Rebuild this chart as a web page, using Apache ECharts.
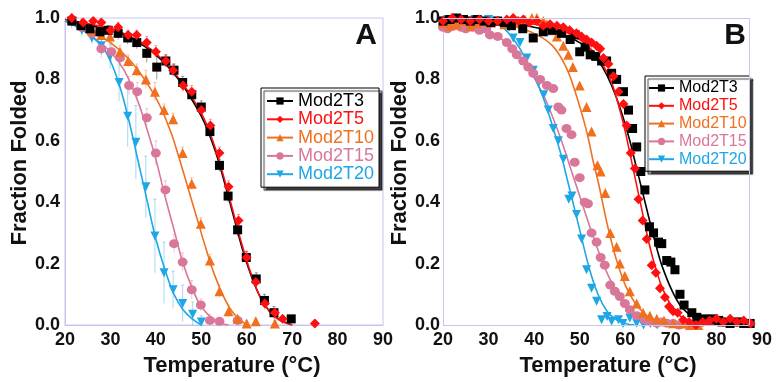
<!DOCTYPE html>
<html><head><meta charset="utf-8">
<script src="https://cdn.jsdelivr.net/npm/echarts@6/dist/echarts.min.js"></script>
<style>html,body{margin:0;padding:0;background:#fff}#c{width:776px;height:382px}</style>
</head><body><div id="c"></div>
<script>
const seriesNames = ['Mod2T3','Mod2T5','Mod2T10','Mod2T15','Mod2T20'];
const colors = ['#000000','#ff1010','#f07020','#d9779b','#1ea6e6'];
const symbols = ['rect','diamond','triangle','circle','triangle'];
const symbolRotates = [0,0,0,0,180];
const symbolSizes = [9,10,10,[10,9],9];
const xTicks = [20,30,40,50,60,70,80,90];
const yTicks = [0.0,0.2,0.4,0.6,0.8,1.0];
const panelLabels = ['A','B'];

// Panel A measured points [T, fraction, error]
const A_T3 = [[21.5,0.99,0.01],[23.5,0.975,0.01],[25.5,0.965,0.01],[27.7,0.955,0.015],[29.5,0.96,0.015],[31.7,0.95,0.02],[33.8,0.935,0.02],[35.8,0.92,0.02],[38,0.885,0.03],[40.2,0.84,0.04],[42.2,0.86,0.02],[44,0.83,0.02],[45.9,0.79,0.02],[47.9,0.75,0.02],[50,0.71,0.02],[51.9,0.63,0.02],[54,0.52,0.02],[55.9,0.42,0.02],[58,0.31,0.02],[59.9,0.22,0.02],[62.1,0.15,0.02],[63.9,0.08,0.02],[66,0.04,0.02],[69.8,0.02,0.01]];
const A_T5 = [[21.5,1.0,0.01],[24,0.985,0.01],[26.2,0.99,0.01],[28,0.985,0.01],[30,0.96,0.01],[31.7,0.97,0.015],[33.9,0.945,0.015],[35.8,0.945,0.015],[38,0.92,0.02],[40,0.89,0.02],[42.2,0.86,0.02],[43.8,0.83,0.02],[46,0.78,0.02],[47.9,0.76,0.02],[50,0.70,0.02],[52,0.65,0.02],[54,0.56,0.02],[56,0.45,0.02],[58.2,0.34,0.02],[60,0.22,0.02],[62,0.14,0.02],[64,0.07,0.02],[66.2,0.04,0.01],[67.9,0.02,0.01],[75,0.005,0.01]];
const A_T10 = [[21.5,1.0,0.01],[23.7,0.985,0.01],[25.9,0.96,0.015],[28,0.945,0.015],[29.9,0.94,0.02],[32.1,0.89,0.02],[33.9,0.86,0.02],[35.8,0.83,0.02],[37.8,0.80,0.03],[39.8,0.76,0.03],[41.8,0.70,0.02],[43.8,0.67,0.02],[45.9,0.56,0.02],[47.9,0.46,0.02],[49.9,0.33,0.02],[51.9,0.21,0.02],[54,0.11,0.02],[56,0.045,0.02],[58,0.02,0.01],[60,0.005,0.01],[62,0.012,0.01],[66.2,0.005,0.01]];
const A_T15 = [[21.5,0.99,0.01],[23.7,0.97,0.01],[25.9,0.95,0.02],[28,0.90,0.03],[30.2,0.89,0.03],[32.1,0.87,0.03],[34.1,0.78,0.03],[35.9,0.76,0.03],[38,0.675,0.03],[40,0.56,0.04],[42.1,0.44,0.03],[44,0.265,0.03],[45.9,0.205,0.03],[47.9,0.115,0.03],[49.9,0.065,0.02],[51.9,0.015,0.02],[54,0.012,0.01],[58,0.015,0.01]];
const A_T20 = [[21.5,0.985,0.02],[23.7,0.96,0.02],[25.9,0.935,0.02],[28,0.91,0.03],[29.9,0.875,0.04],[31.9,0.79,0.06],[33.8,0.68,0.1],[35.6,0.595,0.12],[37.8,0.45,0.1],[39.8,0.29,0.12],[41.8,0.17,0.1],[43.8,0.115,0.06],[45.9,0.07,0.06],[48.1,0.035,0.04],[50,0.01,0.02]];

// Panel A fitted curves [T, fraction]
const A_fit_T3 = [[20,0.99],[30,0.96],[35,0.93],[40,0.88],[45,0.80],[50,0.68],[53,0.57],[55,0.47],[57,0.36],[59,0.25],[61,0.16],[63,0.09],[65,0.045],[67,0.02],[70,0.0]];
const A_fit_T5 = [[20,0.995],[30,0.965],[35,0.935],[40,0.885],[45,0.805],[50,0.69],[53,0.58],[55,0.48],[57,0.37],[59,0.26],[61,0.165],[63,0.09],[65,0.045],[67,0.018],[70,0.0]];
const A_fit_T10 = [[20,0.99],[25,0.96],[30,0.92],[35,0.85],[40,0.74],[43,0.64],[45,0.55],[47,0.45],[49,0.35],[51,0.25],[53,0.16],[55,0.09],[57,0.04],[60,0.0]];
const A_fit_T15 = [[20,0.99],[25,0.95],[30,0.89],[33,0.83],[36,0.73],[38,0.64],[40,0.54],[42,0.42],[44,0.31],[46,0.2],[48,0.12],[50,0.06],[53,0.015],[56,0.0]];
const A_fit_T20 = [[20,0.99],[24,0.96],[28,0.91],[30,0.86],[32,0.78],[34,0.67],[36,0.54],[38,0.41],[40,0.28],[42,0.18],[44,0.1],[46,0.05],[48,0.02],[50,0.0]];

// Panel B measured points [T, fraction, error]
const B_T3 = [[20,0.99],[21.5,0.995],[23,1.0],[24.5,0.995],[26,0.99],[27.5,0.995],[29,0.99],[30.5,0.985],[32,0.99],[33.5,0.985],[35,0.975],[37.5,0.965],[39.8,0.935,0.02],[42,0.955],[44,0.96],[46,0.95,0.02],[47.9,0.93,0.03],[49,0.945],[50,0.89,0.03],[51.2,0.905],[52.3,0.88,0.02],[53.5,0.875],[54.8,0.86,0.02],[55.9,0.86],[57,0.82,0.02],[58.1,0.80],[59.6,0.76,0.02],[60.7,0.70],[61.6,0.64,0.02],[62.5,0.58],[63.4,0.50,0.02],[64.3,0.44],[65.3,0.32,0.02],[66.2,0.30],[67.3,0.27,0.02],[68,0.265],[69.1,0.21,0.02],[70,0.205],[70.9,0.18,0.02],[72,0.10],[72.9,0.065,0.02],[74.6,0.04],[75.7,0.025],[77.5,0.02,0.02],[79.3,0.02],[80.5,0.015],[81.2,0.01],[83,0.005],[84.8,0.01],[86,0.005],[87.4,0.005]];
const B_T5 = [[20,0.99],[22,1.0],[24,0.995],[26,0.99],[28,0.995],[30,0.99],[32,0.99],[34,0.995],[35.4,1.0],[36.5,0.99],[37.6,0.995],[39,0.985],[40.6,0.99],[42,0.975],[43.5,0.98,0.02],[45,0.975],[46.4,0.97,0.03],[47.8,0.96],[49.3,0.95,0.03],[50.4,0.94],[51.5,0.93,0.04],[52.6,0.92],[53.7,0.91,0.04],[54.5,0.9],[55.2,0.87,0.03],[56.3,0.85],[57.4,0.81,0.03],[58.5,0.76],[59.6,0.72,0.03],[60.3,0.65],[61.2,0.56,0.03],[62.1,0.51],[62.9,0.41,0.03],[63.8,0.34],[64.7,0.28,0.03],[65.8,0.195],[66.7,0.17,0.02],[67.6,0.12],[68.7,0.09,0.02],[69.6,0.06],[70.5,0.045],[71.5,0.04],[72.7,0.017],[74,0.01],[75.5,0.0],[77,0.01],[78.5,0.015],[80,0.02],[81.5,0.01],[83,0.02],[84.5,0.01],[86,0.015],[87.5,0.005]];
const B_T10 = [[20,0.985],[21.5,0.975],[23,0.98],[24.5,0.99],[26,0.975],[27.5,0.985],[29,0.99],[30.5,0.985],[32,0.99],[33.5,0.98],[35,0.99],[36.5,0.985],[38,0.995],[39.5,1.0],[40.6,1.0],[42,0.99],[42.8,0.98,0.02],[44,0.96],[45,0.94,0.03],[46.4,0.91],[47.5,0.88,0.04],[48.5,0.84],[50,0.78,0.05],[51.5,0.71,0.04],[52.6,0.63],[53.9,0.52,0.04],[54.6,0.50],[55.6,0.43,0.04],[56.7,0.30],[58.1,0.255,0.03],[58.8,0.20],[59.9,0.16,0.03],[61,0.11],[62.5,0.07,0.02],[63.9,0.04],[65.4,0.03,0.02],[66.9,0.02],[68.5,0.015],[70.5,0.006],[72.5,0.005],[74.2,0.0],[76,0.0]];
const B_T15 = [[20,0.97],[21,0.965],[22.5,0.975],[24,0.97],[25,0.965],[26.5,0.97],[28,0.96],[29.5,0.965],[30.3,0.945],[32,0.94],[34,0.92,0.02],[35.2,0.9],[36.2,0.88,0.03],[37.6,0.86],[38.7,0.84,0.03],[39.8,0.82],[41.3,0.80,0.04],[42.8,0.78],[44.2,0.77,0.06],[45.3,0.71],[46,0.70,0.06],[47.1,0.64],[48.2,0.62,0.08],[48.9,0.53],[50,0.48,0.06],[51.1,0.40],[51.8,0.395,0.07],[52.6,0.30],[53.7,0.27,0.05],[54.6,0.22],[55.5,0.195,0.04],[56.7,0.13],[57.7,0.11,0.03],[58.8,0.093],[59.9,0.07,0.03],[61,0.05],[62.5,0.03,0.02],[64.3,0.017],[65.5,0.01],[66.9,0.006],[68,0.01],[69.1,0.006],[70.5,0.005],[71.8,0.0],[73,0.005]];
const B_T20 = [[20,0.99],[21,0.995],[22.5,0.99],[24,0.995],[25.5,0.99],[27,0.995],[28.5,0.99],[30,0.995],[31.5,0.99],[33,0.985],[34.5,0.97],[35.4,0.935,0.02],[36.9,0.92],[38.4,0.87,0.03],[39.8,0.83],[41,0.79,0.04],[42.1,0.75],[43.1,0.70,0.05],[44.2,0.64],[45.3,0.60,0.05],[46.4,0.54],[47.6,0.41,0.06],[48.3,0.42],[49.3,0.36,0.05],[50.4,0.28],[51.5,0.18,0.04],[52.6,0.12],[53.7,0.077,0.03],[54.8,0.017],[56,0.028],[57,0.012],[58.5,0.017],[59.5,0.005],[61,0.023],[62.5,0.006],[64,0.0],[65.5,0.005],[67,0.0]];

// Panel B fitted curves
const B_fit_T3 = [[20,0.99],[35,0.985],[40,0.97],[45,0.955],[50,0.92],[53,0.88],[55,0.84],[57,0.78],[59,0.70],[61,0.60],[62,0.54],[63,0.48],[64,0.42],[65,0.36],[66,0.30],[67,0.245],[68,0.195],[70,0.12],[72,0.065],[74,0.035],[76,0.017],[80,0.005],[88,0.0]];
const B_fit_T5 = [[20,0.99],[40,0.98],[45,0.965],[50,0.93],[53,0.89],[55,0.85],[57,0.79],[59,0.69],[60,0.63],[61,0.56],[62,0.49],[63,0.42],[64,0.35],[65,0.28],[66,0.22],[67,0.17],[68,0.125],[70,0.065],[72,0.03],[75,0.01],[80,0.0]];
const B_fit_T10 = [[20,0.99],[30,0.985],[35,0.975],[40,0.95],[44,0.91],[47,0.84],[49,0.76],[51,0.66],[52,0.6],[53,0.53],[54,0.47],[55,0.40],[56,0.33],[57,0.27],[58,0.215],[60,0.13],[62,0.075],[64,0.04],[66,0.02],[70,0.005],[74,0.0]];
const B_fit_T15 = [[20,0.97],[25,0.965],[30,0.95],[33,0.93],[36,0.89],[39,0.83],[42,0.75],[44,0.68],[46,0.60],[48,0.51],[50,0.42],[52,0.33],[54,0.245],[56,0.17],[58,0.11],[60,0.065],[62,0.035],[65,0.012],[70,0.0]];
const B_fit_T20 = [[20,0.99],[30,0.985],[33,0.97],[36,0.92],[38,0.87],[40,0.81],[42,0.74],[44,0.65],[46,0.55],[47,0.49],[48,0.43],[50,0.31],[52,0.19],[54,0.10],[56,0.045],[58,0.018],[60,0.005],[62,0.0]];

const panelPoints = [[A_T3,A_T5,A_T10,A_T15,A_T20],[B_T3,B_T5,B_T10,B_T15,B_T20]];
const panelFits = [[A_fit_T3,A_fit_T5,A_fit_T10,A_fit_T15,A_fit_T20],[B_fit_T3,B_fit_T5,B_fit_T10,B_fit_T15,B_fit_T20]];
const bRightEdge = 87.2;

const FONT = 'Liberation Sans, Arial, sans-serif';
const frameColor = '#c6c6ef';
const chart = echarts.init(document.getElementById('c'), null, {renderer:'canvas'});

const grids = [
  {left:65, top:18, width:318, height:309, show:true, borderColor:frameColor, borderWidth:1, backgroundColor:'transparent'},
  {left:443, top:18, width:319, height:309, show:false}
];
function xAxisFor(i){
  return {
    gridIndex:i, type:'value', min:xTicks[0], max:xTicks[xTicks.length-1], interval:10,
    axisLine:{show:i===0, lineStyle:{color:frameColor}}, axisTick:{show:false}, splitLine:{show:false},
    axisLabel:{margin:6, color:'#111', fontSize:18, fontWeight:'bold', fontFamily:FONT},
    name:'Temperature (°C)', nameLocation:'middle', nameGap:30,
    nameTextStyle:{color:'#111', fontSize:22, fontWeight:'bold', fontFamily:FONT, padding:[0,0,0,i===0?16:11]}
  };
}
function yAxisFor(i){
  return {
    gridIndex:i, type:'value', min:yTicks[0], max:yTicks[yTicks.length-1], interval:0.2,
    axisLine:{show:true, lineStyle:{color:frameColor}}, axisTick:{show:false}, splitLine:{show:false},
    axisLabel:{margin:i===0?5:3, color:'#111', fontSize:18, fontWeight:'bold', fontFamily:FONT, formatter:v=>v.toFixed(1)},
    name:'Fraction Folded', nameLocation:'middle', nameGap:i===0?29:32,
    nameTextStyle:{color:'#111', fontSize:22, fontWeight:'bold', fontFamily:FONT, padding:[0,0,0,17]}
  };
}

function errRender(params, api){
  const x = api.value(0), y = api.value(1), e = api.value(2);
  if (!e || isNaN(e)) return null;
  const p1 = api.coord([x, Math.min(1.02, y+e)]), p2 = api.coord([x, Math.max(0, y-e)]);
  return {type:'group', children:[
    {type:'line', shape:{x1:p1[0],y1:p1[1],x2:p2[0],y2:p2[1]}, style:{stroke:api.visual('color'), lineWidth:1, opacity:0.4}},
    {type:'line', shape:{x1:p1[0]-1.5,y1:p1[1],x2:p1[0]+1.5,y2:p1[1]}, style:{stroke:api.visual('color'), lineWidth:1, opacity:0.4}}
  ]};
}

const series = [];
// fitted lines first (legend icon source)
for (let p=0; p<2; p++){
  for (let k=0; k<5; k++){
    const s = {
      type:'line', name:seriesNames[k], xAxisIndex:p, yAxisIndex:p, data:panelFits[p][k],
      smooth:0.4, showSymbol:false, symbol:symbols[k], symbolRotate:symbolRotates[k],
      lineStyle:{color:colors[k], width:1.6}, itemStyle:{color:colors[k]}, z:3, silent:true
    };
    if (p===1 && k===0){
      const ls = {color:frameColor, width:1, type:'solid'};
      s.markLine = {silent:true, symbol:['none','none'], label:{show:false}, lineStyle:ls, animation:false,
        data:[
          [{coord:[xTicks[0],0]},{coord:[bRightEdge,0]}],
          [{coord:[xTicks[0],1]},{coord:[bRightEdge,1]}],
          [{coord:[bRightEdge,0]},{coord:[bRightEdge,1]}]
        ]};
    }
    series.push(s);
  }
}
for (let p=0; p<2; p++){
  for (let k=0; k<5; k++){
    series.push({type:'custom', name:seriesNames[k], xAxisIndex:p, yAxisIndex:p, data:panelPoints[p][k],
      renderItem:errRender, encode:{x:0,y:1}, itemStyle:{color:colors[k]}, z:1, silent:true});
  }
}
// draw order: pink/blue/orange under black/red similar to reference
const order = [4,3,2,0,1];
for (let p=0; p<2; p++){
  for (const k of order){
    series.push({type:'scatter', name:seriesNames[k], xAxisIndex:p, yAxisIndex:p, data:panelPoints[p][k],
      symbol:symbols[k], symbolRotate:symbolRotates[k], symbolSize:symbolSizes[k],
      itemStyle:{color:colors[k], opacity:1}, z:4, silent:true});
  }
}

function legendFor(i){
  const base = {
    orient:'vertical', selectedMode:false, borderColor:'#000', borderWidth:1, backgroundColor:'#fff',
    shadowColor:'rgba(0,0,0,0.75)', shadowOffsetX:3, shadowOffsetY:3, shadowBlur:1,
    data: seriesNames.map((n,k)=>({name:n, textStyle:{color:colors[k]}}))
  };
  if (i===0) return Object.assign(base, {left:261, top:88, padding:[4,5,4,5], itemWidth:26, itemHeight:9, itemGap:0.3,
    textStyle:{fontSize:18, lineHeight:18, fontFamily:FONT}});
  return Object.assign(base, {left:645, top:76, padding:[4,3,4,3], itemWidth:25, itemHeight:9, itemGap:1.8,
    textStyle:{fontSize:16, lineHeight:16, fontFamily:FONT}});
}

chart.setOption({
  animation:false,
  backgroundColor:'#fff',
  grid:grids,
  xAxis:[xAxisFor(0), xAxisFor(1)],
  yAxis:[yAxisFor(0), yAxisFor(1)],
  legend:[legendFor(0), legendFor(1)],
  graphic:[
    {type:'text', x:366, y:36, z:10, style:{text:panelLabels[0], fill:'#111', font:'bold 30px '+FONT, textAlign:'center', textVerticalAlign:'middle'}},
    {type:'text', x:735, y:36, z:10, style:{text:panelLabels[1], fill:'#111', font:'bold 30px '+FONT, textAlign:'center', textVerticalAlign:'middle'}}
  ],
  series:series
});
</script>
</body></html>
